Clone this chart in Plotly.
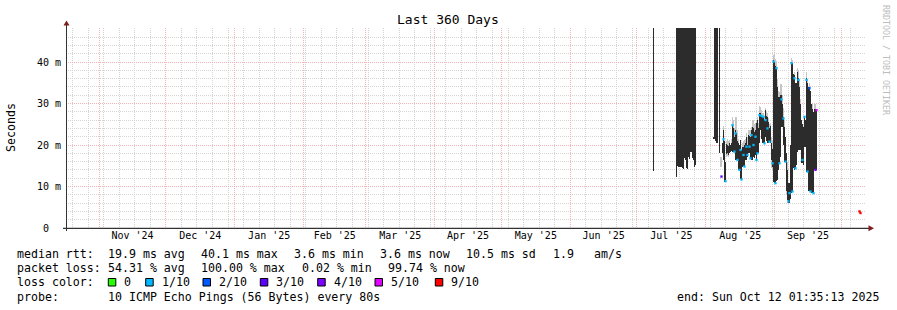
import plotly.graph_objects as go
from datetime import datetime, timedelta

# ---------------- data ----------------
GRAPH_END = datetime(2025, 10, 12, 1, 35, 13)
GRAPH_START = GRAPH_END - timedelta(days=360)
STEP_S = 38880                       # one consolidated RRD row (360 d / 800 rows)
FIRST_ROW = datetime(2025, 7, 8, 5, 11, 13)

# dark smoke band (ms) per row, None = no data
dark_lo = ([13.8] + [None] * 22 +
           [12.4, 15.0, 14.6, 14.8, 14.8, 14.6, 14.4, 14.2, 16.8, 16.4,
            14.4, 14.2, 17.0, 16.6, 18.2, 18.4, 16.8, 16.4, 14.8, 15.2] + [None] * 17 +
           [21.4, 21.4, 21.0, 20.6, 20.4, None, 18.0] +
           [None, None, 18.1, 16.4, 11.2, 11.2, 17.8, 18.0, 17.6, 18.0,
            18.2, 18.6, 18.4, 18.4, 18.4, 16.4, 16.4, 16.4, 14.0, 14.0,
            11.7, 11.7, 14.8, 15.0, 14.8, 16.4, 16.4, 17.0, 18.0, 18.0,
            16.8, 16.4, 16.4, 17.0, 16.8, 17.6, 16.4, 18.0, 18.1, 20.5,
            23.6, 21.5, 20.4, 20.4, 20.6, 22.0, 21.0, 20.4, 20.4, 20.8,
            20.4, 16.4, 14.8, 11.2, 10.8, 10.8, 11.4, 11.6, 14.0, 15.6,
            17.2, 24.4, 24.4, 20.0, 16.0, 16.0, 9.0, 6.7, 6.0, 6.0,
            7.0, 8.4, 8.8, 14.4, 14.0, 14.4, 15.2, 18.4, 18.8, 18.8,
            18.8, 15.6, 15.6, 15.2, 19.6, 19.6, 13.6, 13.6, 9.0, 8.8,
            8.8, 8.4, 8.4, 8.4, 14.0, 14.0, 14.0, None] +
           [None] * 43)
dark_hi = ([48.2] + [None] * 22 +
           [48.2] * 20 + [None] * 17 +
           [22.0, 48.2, 48.2, 48.2, 48.2, None, 48.2] +
           [None, None, 20.5, 23.6, 21.0, 16.0, 20.2, 20.0, 19.8, 20.4,
            20.0, 20.6, 24.8, 24.2, 22.0, 23.6, 23.0, 21.0, 20.4, 20.0,
            21.2, 18.8, 19.6, 19.6, 20.0, 20.4, 22.0, 20.0, 22.4, 22.2,
            22.0, 23.6, 24.4, 24.0, 23.2, 23.6, 25.2, 26.0, 24.0, 27.7,
            27.6, 27.2, 26.8, 26.8, 26.0, 28.4, 27.0, 26.8, 25.6, 24.0,
            24.6, 20.4, 19.0, 40.5, 40.0, 39.0, 38.5, 34.0, 31.6, 31.6,
            32.0, 32.0, 30.0, 26.8, 24.4, 22.0, 18.0, 14.0, 10.8, 10.8,
            20.0, 40.1, 39.7, 37.0, 36.9, 35.0, 35.0, 37.7, 36.1, 34.0,
            30.0, 26.0, 25.0, 24.4, 26.8, 26.0, 36.1, 35.0, 34.0, 33.7,
            33.0, 30.0, 28.8, 28.0, 28.8, 28.8, 28.4, None] +
           [None] * 43)

# light smoke band (ms)
smoke_lo = ([None] * 67 +
            [14.8, 14.6, None, 16.4, None, None, 17.0, 17.4, 17.0, 18.0,
             None, 18.6, 18.4, 18.4, 18.4, 16.4, 16.4, 16.4, 14.0, None,
             None, None, 14.8, 15.0, 14.8, 16.4, 16.4, 17.0, 18.0, 18.0,
             16.8, 16.4, 16.4, 17.0, 16.8, 17.6, 16.4, 18.0, 18.1, 20.5,
             23.6, 21.5, 20.4, 20.4, 20.6, 22.0, 21.0, 20.4, 20.4, 20.8,
             20.4, 14.4, 14.0, 11.2, 10.8, 10.8, 11.4, 11.6, 14.0, 15.6,
             17.2, 24.4, 24.4, 20.0, 16.0, None, 8.0, 6.0, None, None,
             None, 8.4, 8.8, None, 14.0, None, None, 18.4, 18.8, 18.8,
             18.8, None, None, None, None, None, 13.6, 13.6, None, 8.8,
             None, None, 8.4, None, 14.0, 14.0, None, None] +
            [None] * 43)
smoke_hi = ([None] * 67 +
            [17.2, 17.0, None, 24.6, None, None, 21.0, 21.5, 21.0, 21.2,
             None, 21.4, 26.8, 26.0, 24.0, 26.8, 26.8, 23.6, 21.5, None,
             None, None, 20.6, 21.0, 21.2, 21.4, 23.0, 22.0, 23.6, 23.6,
             23.6, 24.4, 26.0, 26.0, 25.0, 25.2, 26.0, 26.8, 25.2, 29.3,
             29.2, 28.4, 27.6, 27.6, 27.0, 29.0, 28.0, 27.6, 26.4, 25.0,
             25.4, 22.0, 21.0, 41.7, 41.6, 40.8, 40.2, 36.0, 33.0, 32.8,
             34.8, 34.8, 32.0, 29.0, 26.0, None, 18.0, 16.0, None, None,
             None, 41.0, 40.5, None, 37.7, None, None, 38.5, 38.0, 36.0,
             31.0, None, None, None, None, None, 37.7, 36.0, None, 35.0,
             None, None, 30.0, None, 30.0, 30.0, None, None] +
            [None] * 43)

# median rtt (ms) and packet loss (tenths)
median = ([None] * 67 +
          [None, 12.4, None, 21.4, None, 11.3, None, None, None, None,
           None, None, 24.8, None, 18.4, 22.8, None, 16.4, None, 14.0,
           18.8, 11.7, None, 17.6, 14.8, None, 19.6, 17.6, None, 19.6,
           16.8, 22.4, None, 20.0, None, 22.0, 16.4, 18.0, None, 27.2,
           None, 27.0, None, 26.8, 20.4, 26.0, None, 24.0, None, 20.8,
           None, None, 15.6, 40.1, None, 10.8, 38.5, None, None, 15.6,
           None, 31.0, None, 26.4, None, 16.0, None, None, 6.4, 8.4,
           None, 39.7, 8.8, None, 36.1, 14.4, None, None, 35.7, None,
           None, None, 16.4, None, 26.8, None, 35.7, 13.6, None, 33.7,
           8.8, None, None, 8.4, None, 14.0, 28.4, None] +
          [None] * 41 + [4.0, 3.6])
loss = ([None] * 67 +
        [None, 3, None, 1, None, 1, None, None, None, None,
         None, None, 1, None, 1, 1, None, 1, None, 1,
         1, 1, None, 1, 1, None, 1, 1, None, 1,
         1, 1, None, 1, None, 1, 1, 1, None, 1,
         None, 1, None, 1, 1, 1, None, 1, None, 1,
         None, None, 1, 1, None, 1, 1, None, None, 1,
         None, 1, None, 1, None, 1, None, None, 1, 1,
         None, 1, 1, None, 1, 1, None, None, 1, None,
         None, None, 1, None, 1, None, 1, 1, None, 2,
         1, None, None, 1, None, 4, 5, None] +
        [None] * 41 + [9, 9])

loss_levels = ["0", "1/10", "2/10", "3/10", "4/10", "5/10", "9/10"]
loss_tenths = [0, 1, 2, 3, 4, 5, 9]
loss_colors = ["#26ff00", "#00b8ff", "#0059ff", "#5e00ff", "#7e00ff", "#dd00ff", "#ff0000"]

stats_rtt = ["19.9 ms avg", "40.1 ms max", "3.6 ms min", "3.6 ms now", "10.5 ms sd", "1.9", "am/s"]
stats_loss = ["54.31 % avg", "100.00 % max", "0.02 % min", "99.74 % now"]
probe_text = "10 ICMP Echo Pings (56 Bytes) every 80s"
end_text = "end: Sun Oct 12 01:35:13 2025"

Y_MAX = 48.2

# ---------------- build ----------------
FONT = "DejaVu Sans Mono"
n = len(dark_lo)
times = [FIRST_ROW + timedelta(seconds=STEP_S * (k + 0.5)) for k in range(n)]
W_MS = STEP_S * 1000

fig = go.Figure()

idx = [k for k in range(n) if smoke_lo[k] is not None]
fig.add_trace(go.Bar(x=[times[k] for k in idx], base=[smoke_lo[k] for k in idx],
                     y=[smoke_hi[k] - smoke_lo[k] for k in idx], width=W_MS,
                     marker=dict(color="#c6c6c6", line=dict(width=0)), hoverinfo="skip"))
idx = [k for k in range(n) if dark_lo[k] is not None]
fig.add_trace(go.Bar(x=[times[k] for k in idx], base=[dark_lo[k] for k in idx],
                     y=[dark_hi[k] - dark_lo[k] for k in idx], width=W_MS,
                     marker=dict(color="#2c2c2c", line=dict(width=0)), hoverinfo="skip"))
cmap = dict(zip(loss_tenths, loss_colors))
idx = [k for k in range(n) if median[k] is not None]
fig.add_trace(go.Scatter(x=[times[k] for k in idx], y=[median[k] for k in idx], mode="markers",
                         marker=dict(symbol="square", size=2.3, color=[cmap[loss[k]] for k in idx],
                                     line=dict(width=0)),
                         hoverinfo="skip", cliponaxis=True))

L, R, T, B = 66, 866, 28, 228
def px(x): return (x - L) / (R - L)
def py(y): return (B - y) / (B - T)

MAJ = "#f0b4b4"
MIN = "#d4d4d4"
fig.update_layout(
    width=897, height=310, autosize=False,
    margin=dict(l=L, r=897 - R, t=T, b=310 - B, pad=0),
    paper_bgcolor="white", plot_bgcolor="white",
    showlegend=False, barmode="overlay", bargap=0,
    font=dict(family=FONT, color="black"),
    xaxis=dict(type="date", range=[GRAPH_START, GRAPH_END], dtick="M1", tick0="2024-11-01",
               ticklabelmode="period", tickformat="%b '%y", showgrid=True, gridcolor=MAJ,
               griddash="1px,1px", gridwidth=1, zeroline=False, showline=False, ticks="",
               tickfont=dict(family=FONT, size=10, color="black"),
               minor=dict(dtick=7 * 86400000, tick0="2024-10-20", showgrid=True,
                          gridcolor=MIN, griddash="1px,1px", gridwidth=1)),
    yaxis=dict(range=[0, Y_MAX], tickvals=[0, 10, 20, 30, 40],
               ticktext=["0\u00a0\u00a0", "10\u00a0m", "20\u00a0m", "30\u00a0m", "40\u00a0m"],
               showgrid=True, gridcolor=MAJ, griddash="1px,1px", gridwidth=1,
               zeroline=False, showline=False, ticks="", ticklabelstandoff=4,
               tickfont=dict(family=FONT, size=10, color="black"),
               minor=dict(dtick=2, showgrid=True, gridcolor=MIN, griddash="1px,1px", gridwidth=1)),
)

shapes = []
# axes
shapes.append(dict(type="line", xref="paper", yref="paper", x0=px(63), x1=px(869),
                   y0=py(228.3), y1=py(228.3), line=dict(color="black", width=1)))
shapes.append(dict(type="line", xref="paper", yref="paper", x0=px(66.5), x1=px(66.5),
                   y0=py(231), y1=py(24), line=dict(color="#333333", width=1)))
# arrows
shapes.append(dict(type="path", xref="paper", yref="paper",
                   path=f"M {px(63.5)} {py(25.5)} L {px(69.5)} {py(25.5)} L {px(66.5)} {py(20.5)} Z",
                   fillcolor="#7f1f1f", line=dict(width=0)))
shapes.append(dict(type="path", xref="paper", yref="paper",
                   path=f"M {px(868.5)} {py(225.3)} L {px(868.5)} {py(231.3)} L {px(874)} {py(228.3)} Z",
                   fillcolor="#7f1f1f", line=dict(width=0)))

ann = []
def text(x, y, s, size=11.6, anchor="left", color="black", angle=0):
    ann.append(dict(x=px(x), y=py(y), xref="paper", yref="paper", text=s, showarrow=False,
                    xanchor=anchor, yanchor="middle", borderpad=0, textangle=angle,
                    font=dict(family=FONT, size=size, color=color)))

text(447.5, 19, "Last 360 Days", size=13, anchor="center")
text(11, 127, "Seconds", anchor="center", angle=-90)
text(886, 60, "RRDTOOL / TOBI OETIKER", size=8.3, anchor="center", color="#bdbdbd", angle=90)

text(16, 254, "median rtt:")
for xs, s in zip([107.3, 200, 293.3, 379.3, 465.3, 551.7, 593.3], stats_rtt):
    text(xs, 254, s)
text(16, 268, "packet loss:")
for xs, s in zip([107, 200.3, 301, 386.7], stats_loss):
    text(xs, 268, s)
text(16, 282, "loss color:")
box_x = [108.3, 145.7, 203, 260.3, 317.7, 375, 435.3]
for bx, lab, col in zip(box_x, loss_levels, loss_colors):
    shapes.append(dict(type="rect", xref="paper", yref="paper", x0=px(bx), x1=px(bx + 7.5),
                       y0=py(286), y1=py(278.5), fillcolor=col, line=dict(color="black", width=1)))
    text(bx + 15, 282, lab)
text(16, 296.5, "probe:")
text(107.3, 296.5, probe_text)
text(880, 296.5, end_text, anchor="right")

fig.update_layout(shapes=shapes, annotations=ann)
fig.write_html("out.html")
